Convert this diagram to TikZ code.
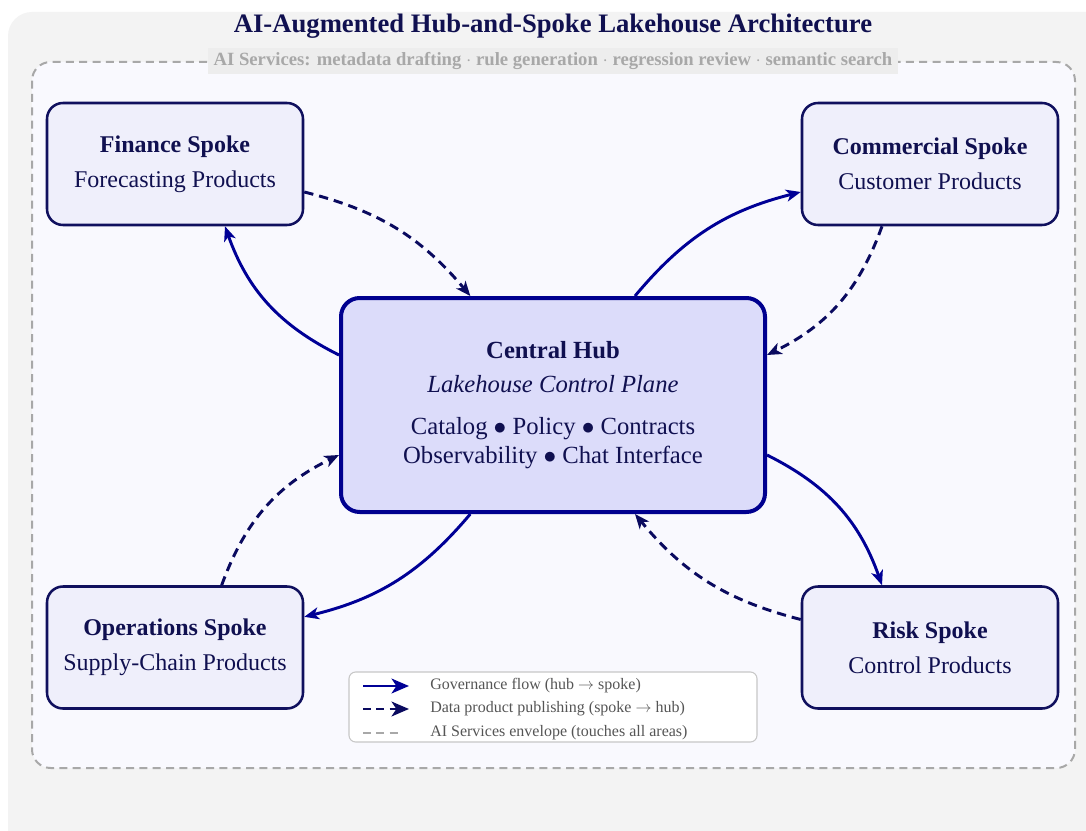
\documentclass[tikz,border=0pt]{standalone}
\usepackage{fontspec}
\setmainfont{Liberation Serif}
\usetikzlibrary{arrows.meta,calc}
\definecolor{bggray}{HTML}{F3F3F3}
\definecolor{envfill}{HTML}{F9F9FE}
\definecolor{spokefill}{HTML}{EFEFFB}
\definecolor{hubfill}{HTML}{DCDCFA}
\definecolor{govblue}{HTML}{000096}
\definecolor{datanavy}{HTML}{0A0A5F}
\definecolor{spokeedge}{HTML}{10105E}
\definecolor{hubedge}{HTML}{00008F}
\definecolor{titlecol}{HTML}{101050}
\definecolor{envgray}{HTML}{A8A8A8}
\definecolor{labelbg}{HTML}{EDEDED}
\definecolor{legtext}{HTML}{555555}
\newcommand{\hubdot}{\scalebox{1.1}{$\bullet$}}
\tikzset{
  spokebox/.style={draw=spokeedge, fill=spokefill, line width=1.9pt, rounded corners=12pt,
    minimum width=192pt, minimum height=91.5pt, align=center, text=titlecol,
    font=\fontsize{18}{26}\selectfont},
  hubbox/.style={draw=hubedge, fill=hubfill, line width=3pt, rounded corners=14pt,
    minimum width=318pt, minimum height=160.5pt, align=center, text=titlecol,
    font=\fontsize{18.5}{22}\selectfont},
  gov/.style={draw=govblue, line width=2.2pt, -{Stealth[length=11pt,width=9pt,inset=3pt]}},
  data/.style={draw=datanavy, line width=2.2pt, dash pattern=on 7pt off 4.5pt,
    -{Stealth[length=11pt,width=9pt,inset=3pt]}},
  envline/.style={draw=envgray, line width=1.5pt, dash pattern=on 6pt off 4pt},
  legtxt/.style={anchor=west, text=legtext, font=\fontsize{12}{14}\selectfont, inner sep=0pt},
}
\begin{document}
\begin{tikzpicture}[x=0.75pt,y=-0.75pt]
\useasboundingbox (0,0) rectangle (1086,831);
\fill[white] (0,0) rectangle (1086,831);
\begin{scope}
\clip (0,0) rectangle (1086,831);
\fill[bggray, rounded corners=18pt] (8,12) rectangle (1110,860);
\end{scope}
% title
\node[text=titlecol, font=\fontsize{20}{24}\selectfont\bfseries] (title) at (553,26) {AI-Augmented Hub-and-Spoke Lakehouse Architecture};
% envelope
\draw[envline, fill=envfill, rounded corners=14pt] (32,62) rectangle (1075,768);
\node[fill=labelbg, text=envgray, inner xsep=4pt, inner ysep=3pt, font=\fontsize{14}{16}\selectfont\bfseries] (ailabel) at (553,61) {AI Services: metadata drafting $\cdot$ rule generation $\cdot$ regression review $\cdot$ semantic search};
% spokes
\node[spokebox] (fin) at (175,164) {\textbf{Finance Spoke}\\Forecasting Products};
\node[spokebox] (com) at (930,164) {\textbf{Commercial Spoke}\\Customer Products};
\node[spokebox] (ops) at (175,647.5) {\textbf{Operations Spoke}\\Supply-Chain Products};
\node[spokebox] (risk) at (930,647.5) {\textbf{Risk Spoke}\\Control Products};
% hub
\node[hubbox] (hub) at (553,405) {%
  \textbf{Central Hub}\\[4pt]
  \textit{Lakehouse Control Plane}\\[9pt]
  Catalog \hubdot{} Policy \hubdot{} Contracts\\
  Observability \hubdot{} Chat Interface};
% governance arrows
\draw[gov] ([yshift=37.5pt]hub.west) to[bend left=22] ([xshift=37.5pt]fin.south);
\draw[gov] ([xshift=61.5pt]hub.north) to[bend left=18] ([yshift=-21pt]com.west);
\draw[gov] ([yshift=-37.5pt]hub.east) to[bend left=22] ([xshift=-36pt]risk.north);
\draw[gov] ([xshift=-62pt]hub.south) to[bend left=18] ([yshift=23pt]ops.east);
% data arrows
\draw[data] ([yshift=-21pt]fin.east) to[bend left=18] ([xshift=-62pt]hub.north);
\draw[data] ([xshift=-36pt]com.south) to[bend left=22] ([yshift=37.5pt]hub.east);
\draw[data] ([yshift=21pt]risk.west) to[bend left=18] ([xshift=61.5pt]hub.south);
\draw[data] ([xshift=35pt]ops.north) to[bend left=22] ([yshift=-37.5pt]hub.west);
% legend
\node[draw=black!22, fill=white, rounded corners=5pt, line width=0.8pt, minimum width=306pt, minimum height=52.5pt] (leg) at (553,707) {};
\coordinate (l1a) at (363,686); \coordinate (l1b) at (409,686);
\coordinate (l2a) at (363,709); \coordinate (l2b) at (409,709);
\coordinate (l3a) at (363,733); \coordinate (l3b) at (402,733);
\draw[gov, -{Stealth[length=13pt,width=11pt,inset=3.5pt]}] (l1a) -- (l1b);
\draw[data, dash pattern=on 6pt off 4pt, -{Stealth[length=13pt,width=11pt,inset=3.5pt]}] (l2a) -- (l2b);
\draw[envline] (l3a) -- (l3b);
\node[legtxt] (t1) at (430,686) {Governance flow (hub $\rightarrow$ spoke)};
\node[legtxt] (t2) at (430,709) {Data product publishing (spoke $\rightarrow$ hub)};
\node[legtxt] (t3) at (430,733) {AI Services envelope (touches all areas)};
\end{tikzpicture}
\end{document}
